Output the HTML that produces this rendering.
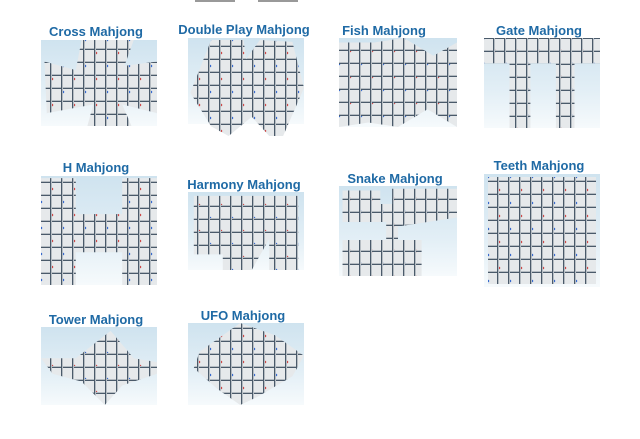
<!DOCTYPE html>
<html><head><style>
body{margin:0;width:640px;height:439px;background:#fff;position:relative;overflow:hidden;font-family:"Liberation Sans",sans-serif}
.t{position:absolute;font-weight:bold;font-size:13px;color:#1f6aa5;white-space:nowrap;transform:translateX(-50%)}
.b{position:absolute;background:linear-gradient(180deg,#cfe3ef 0%,#e3eff6 60%,#f6fafc 100%)}
.s{position:absolute;left:0;top:0;right:0;bottom:0;
background:
repeating-linear-gradient(90deg,transparent 0 9px,#4a5a6a 9px 10px,#b5bcc2 10px 11px),
repeating-linear-gradient(0deg,transparent 0 11px,#4a5a6a 11px 12px,#b5bcc2 12px 13px),
radial-gradient(circle at 50% 50%,#c44 0 1px,transparent 1.5px) 0 0/22px 26px,
radial-gradient(circle at 50% 50%,#36c 0 1px,transparent 1.5px) 11px 13px/22px 26px,
#e6e9eb}
</style></head><body>
<div style="position:absolute;left:195px;top:0;width:40px;height:2px;background:#999"></div>
<div style="position:absolute;left:258px;top:0;width:40px;height:2px;background:#999"></div>

<div class="t" style="left:96px;top:24px">Cross Mahjong</div>
<div class="b" style="left:41px;top:40px;width:116px;height:86px"><div class="s" style="clip-path:polygon(35% 0,80% 0,72% 30%,100% 25%,100% 85%,70% 75%,78% 100%,40% 100%,45% 75%,5% 85%,3% 25%,30% 35%)"></div></div>

<div class="t" style="left:244px;top:22px">Double Play Mahjong</div>
<div class="b" style="left:188px;top:38px;width:116px;height:86px"><div class="s" style="top:2px;bottom:-12px;clip-path:polygon(20% 0,48% 0,50% 20%,62% 0,90% 2%,100% 50%,82% 100%,70% 100%,55% 80%,35% 100%,20% 90%,2% 55%)"></div></div>

<div class="t" style="left:384px;top:23px">Fish Mahjong</div>
<div class="b" style="left:339px;top:38px;width:118px;height:89px"><div class="s" style="clip-path:polygon(0 5%,30% 5%,55% 0,80% 20%,100% 5%,100% 100%,75% 80%,50% 100%,25% 95%,0 100%)"></div></div>

<div class="t" style="left:539px;top:23px">Gate Mahjong</div>
<div class="b" style="left:484px;top:38px;width:116px;height:90px"><div class="s" style="clip-path:polygon(0 0,100% 0,100% 28%,78% 28%,78% 100%,62% 100%,62% 28%,40% 28%,40% 100%,22% 100%,22% 28%,0 28%)"></div></div>

<div class="t" style="left:96px;top:160px">H Mahjong</div>
<div class="b" style="left:41px;top:176px;width:116px;height:109px"><div class="s" style="clip-path:polygon(0 2%,30% 2%,30% 35%,70% 35%,70% 2%,100% 2%,100% 100%,70% 100%,70% 70%,30% 70%,30% 100%,0 100%)"></div></div>

<div class="t" style="left:244px;top:177px">Harmony Mahjong</div>
<div class="b" style="left:188px;top:192px;width:116px;height:78px"><div class="s" style="clip-path:polygon(5% 5%,95% 5%,95% 100%,70% 100%,70% 60%,55% 100%,30% 100%,30% 80%,5% 80%)"></div></div>

<div class="t" style="left:395px;top:171px">Snake Mahjong</div>
<div class="b" style="left:339px;top:186px;width:118px;height:90px"><div class="s" style="clip-path:polygon(3% 5%,35% 5%,35% 20%,45% 20%,45% 3%,100% 3%,100% 35%,50% 45%,50% 60%,70% 60%,70% 100%,3% 100%,3% 60%,40% 60%,40% 40%,3% 40%)"></div></div>

<div class="t" style="left:539px;top:158px">Teeth Mahjong</div>
<div class="b" style="left:484px;top:174px;width:116px;height:113px"><div class="s" style="left:4px;right:4px;top:3px;bottom:3px"></div></div>

<div class="t" style="left:96px;top:312px">Tower Mahjong</div>
<div class="b" style="left:41px;top:327px;width:116px;height:78px"><div class="s" style="clip-path:polygon(60% 5%,80% 40%,100% 45%,100% 60%,70% 75%,55% 100%,35% 70%,10% 60%,0 40%,30% 40%)"></div></div>

<div class="t" style="left:243px;top:308px">UFO Mahjong</div>
<div class="b" style="left:188px;top:323px;width:116px;height:82px"><div class="s" style="clip-path:polygon(45% 0,75% 15%,100% 40%,90% 65%,60% 90%,45% 100%,25% 80%,5% 55%,10% 35%)"></div></div>
</body></html>
